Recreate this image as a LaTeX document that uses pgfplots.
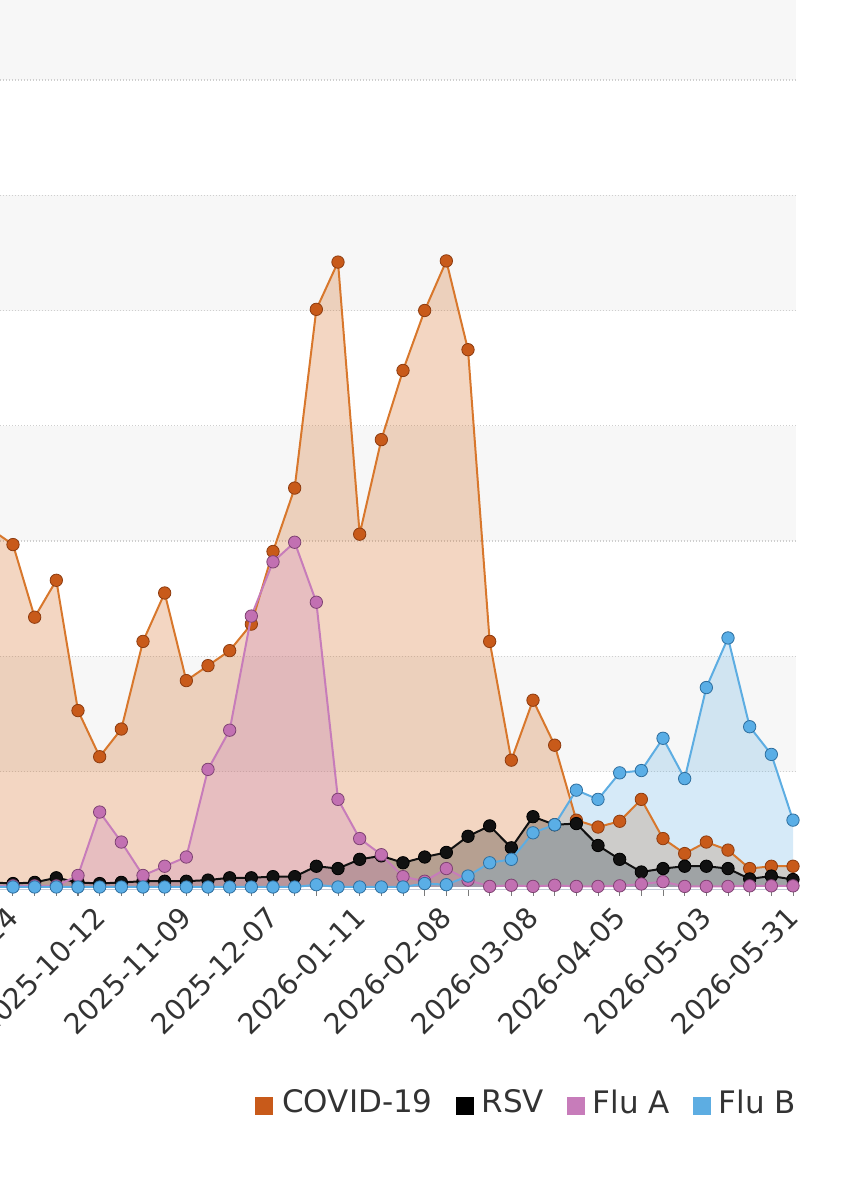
\documentclass[border=0pt]{standalone}
\usepackage{fontspec}
\setmainfont{DejaVu Sans}
\usepackage{pgfplots}
\pgfplotsset{compat=1.18}
\usepackage{pgfplotstable}

\definecolor{textc}{HTML}{333333}
\definecolor{band}{HTML}{F7F7F7}
\definecolor{gridc}{HTML}{CFCFCF}
\definecolor{axisc}{HTML}{C4CAD6}
\definecolor{tickc}{HTML}{7A7A7A}
\definecolor{covidL}{HTML}{D8772C}
\definecolor{covidM}{HTML}{C85A1A}
\definecolor{covidD}{HTML}{8E3C10}
\definecolor{covidF}{HTML}{D2691E}
\definecolor{rsvL}{HTML}{111111}
\definecolor{fluaL}{HTML}{C77CBA}
\definecolor{fluaM}{HTML}{C270B2}
\definecolor{fluaD}{HTML}{7E4272}
\definecolor{flubL}{HTML}{5DADE2}
\definecolor{flubM}{HTML}{5AAEE6}
\definecolor{flubD}{HTML}{2E6E9E}

\pgfplotstableread{
i  covid rsv  flua flub
-1 31.0  0.4  0.1  0
0  29.7  0.3  0.1  0
1  23.4  0.4  0.1  0
2  26.6  0.8  0.1  0
3  15.3  0.4  1.0  0
4  11.3  0.3  6.5  0
5  13.7  0.4  3.9  0
6  21.3  0.5  1.0  0
7  25.5  0.5  1.8  0
8  17.9  0.5  2.6  0
9  19.2  0.6  10.2 0
10 20.5  0.8  13.6 0
11 22.8  0.8  23.5 0
12 29.1  0.9  28.2 0
13 34.6  0.9  29.9 0
14 50.1  1.8  24.7 0.2
15 54.2  1.6  7.6  0
16 30.6  2.4  4.2  0
17 38.8  2.7  2.8  0
18 44.8  2.1  0.9  0
19 50.0  2.6  0.5  0.3
20 54.3  3.0  1.6  0.2
21 46.6  4.4  0.6  0.95
22 21.3  5.3  0.05 2.1
23 11.0  3.4  0.15 2.4
24 16.2  6.1  0.05 4.7
25 12.3  5.4  0.15 5.4
26 5.8   5.5  0.05 8.4
27 5.2   3.6  0.05 7.6
28 5.7   2.4  0.1  9.9
29 7.6   1.3  0.26 10.1
30 4.2   1.6  0.46 12.9
31 2.9   1.8  0.05 9.4
32 3.9   1.8  0.05 17.3
33 3.2   1.6  0.05 21.6
34 1.6   0.7  0.1  13.9
35 1.8   0.95 0.1  11.5
36 1.8   0.65 0.1  5.8
}\datatable

\begin{document}
\begin{tikzpicture}
\begin{axis}[
  at={(0pt,155.25pt)}, anchor=south west,
  scale only axis, width=397.75pt, height=444.75pt,
  xmin=-0.6, xmax=36.115, ymin=-0.217, ymax=76.93,
  clip mode=individual,
  axis x line*=bottom, hide y axis,
  x axis line style={draw=axisc, line width=0.6pt},
  xtick={0,4,...,36}, minor xtick={-1,0,...,36},
  xticklabels={2025-09-14,2025-10-12,2025-11-09,2025-12-07,2026-01-11,2026-02-08,2026-03-08,2026-04-05,2026-05-03,2026-05-31},
  tick align=outside, major tick length=3pt, minor tick length=3pt,
  tick style={draw=tickc, line width=0.5pt},
  xticklabel style={xshift=-3.8pt, yshift=-4.5pt, rotate=45, anchor=north east, inner sep=0pt,
    font=\fontsize{14.2}{17}\selectfont, text=textc},
  legend columns=4,
  legend cell align=left,
  legend style={draw=none, fill=none, at={(1.0085,-0.24)}, anchor=east,
    font=\fontsize{15.5}{18}\selectfont, text=textc,
    nodes={inner sep=0pt},
    /tikz/every even column/.append style={column sep=11.5pt}},
]
% background bands
\fill[band] (axis cs:-0.6,10) rectangle (axis cs:36.115,20);
\fill[band] (axis cs:-0.6,30) rectangle (axis cs:36.115,40);
\fill[band] (axis cs:-0.6,50) rectangle (axis cs:36.115,60);
\fill[band] (axis cs:-0.6,70) rectangle (axis cs:36.115,76.93);
\pgfplotsinvokeforeach{10,20,30,40,50,60,70}{
  \draw[gridc, line width=0.6pt, dash pattern=on 0.6pt off 0.9pt] (axis cs:-0.6,#1) -- (axis cs:36.115,#1);
}

% area fills
\addplot[draw=none, fill=covidF, fill opacity=0.27, forget plot] table[x=i,y=covid]{\datatable} \closedcycle;
\addplot[draw=none, fill=black, fill opacity=0.25, forget plot] table[x=i,y=rsv]{\datatable} \closedcycle;
\addplot[draw=none, fill=fluaL, fill opacity=0.27, forget plot] table[x=i,y=flua]{\datatable} \closedcycle;
\addplot[draw=none, fill=flubL, fill opacity=0.25, forget plot] table[x=i,y=flub]{\datatable} \closedcycle;

% lines and markers
\addplot[covidL, line width=1pt, mark=*, mark size=3.1pt,
  mark options={fill=covidM, draw=covidD, line width=0.4pt}, forget plot] table[x=i,y=covid]{\datatable};
\addplot[rsvL, line width=1pt, mark=*, mark size=3.1pt,
  mark options={fill=rsvL, draw=black, line width=0.4pt}, forget plot] table[x=i,y=rsv]{\datatable};
\addplot[fluaL, line width=1pt, mark=*, mark size=3.1pt,
  mark options={fill=fluaM, draw=fluaD, line width=0.4pt}, forget plot] table[x=i,y=flua]{\datatable};
\addplot[flubL, line width=1pt, mark=*, mark size=3.1pt,
  mark options={fill=flubM, draw=flubD, line width=0.4pt}, forget plot] table[x=i,y=flub]{\datatable};

\addlegendimage{legend image code/.code={\fill[covidM] (0pt,-5.75pt) rectangle (8.5pt,2.75pt); \path (13.5pt,0pt);}}
\addlegendentry{COVID-19}
\addlegendimage{legend image code/.code={\fill[black] (0pt,-5.75pt) rectangle (8.5pt,2.75pt); \path (12.5pt,0pt);}}
\addlegendentry{RSV}
\addlegendimage{legend image code/.code={\fill[fluaL] (0pt,-5.75pt) rectangle (8.5pt,2.75pt); \path (12.5pt,0pt);}}
\addlegendentry{Flu A}
\addlegendimage{legend image code/.code={\fill[flubL] (0pt,-5.75pt) rectangle (8.5pt,2.75pt); \path (12.5pt,0pt);}}
\addlegendentry{Flu B}
\end{axis}
\pgfresetboundingbox
\useasboundingbox (0pt,0pt) rectangle (431.5pt,600pt);
\end{tikzpicture}
\end{document}
